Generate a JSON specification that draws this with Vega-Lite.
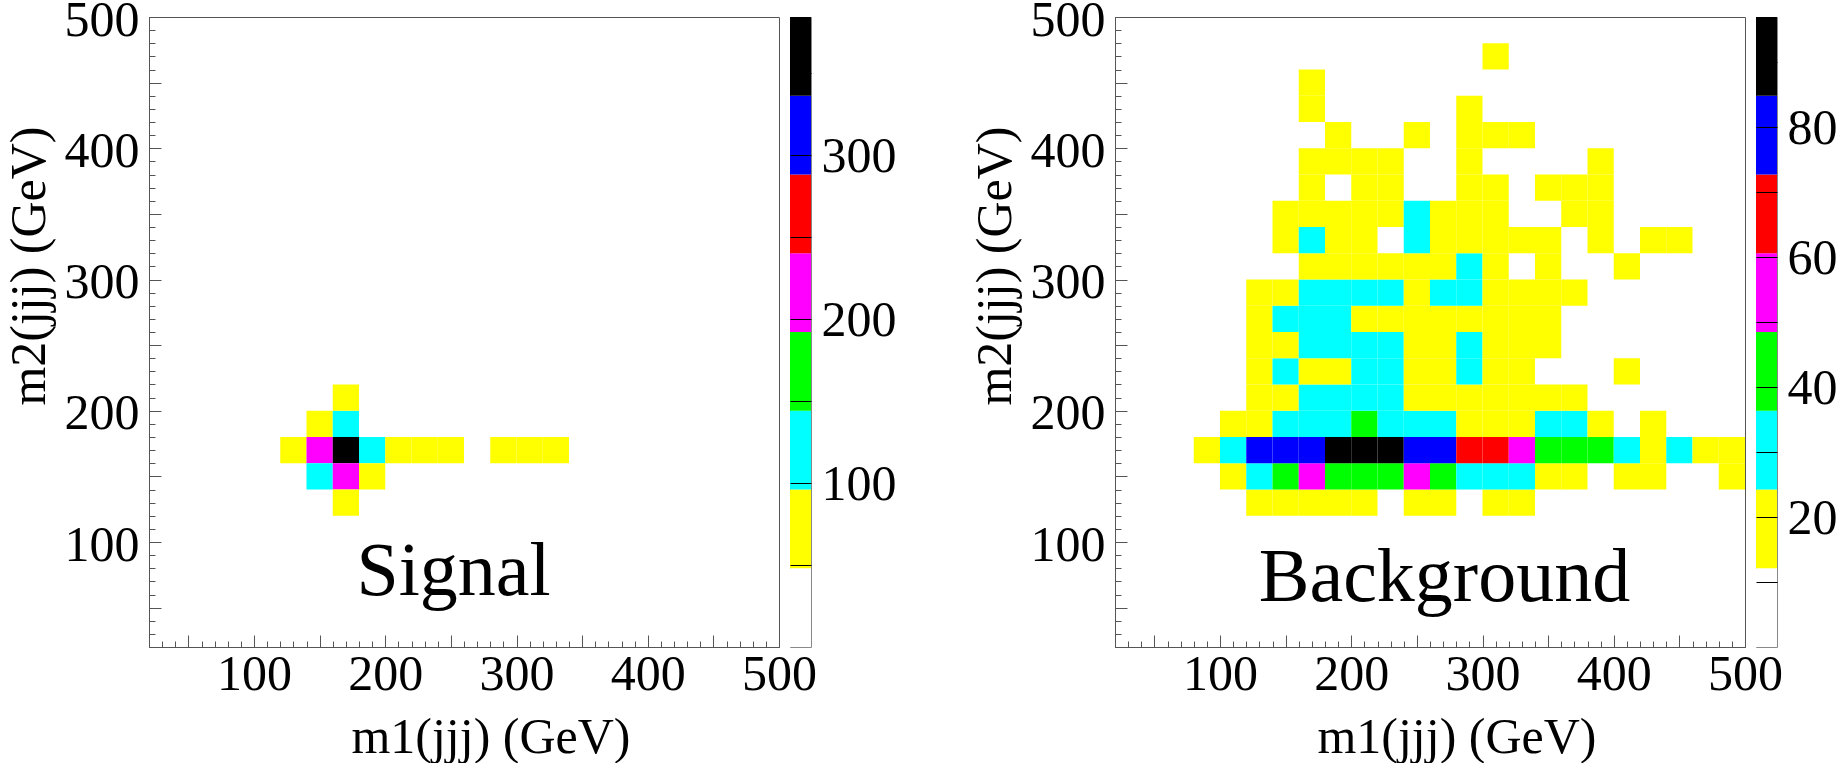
{
  "$schema": "https://vega.github.io/schema/vega-lite/v6.json",
  "background": "white",
  "padding": {"left": 3, "top": -6, "right": 0, "bottom": 0},
  "config": {
    "font": "Liberation Serif",
    "view": {"stroke": null},
    "axis": {
      "labelFont": "Liberation Serif", "labelFontSize": 50, "labelColor": "#000",
      "titleFont": "Liberation Serif", "titleFontSize": 50, "titleColor": "#000", "titleFontWeight": "normal",
      "grid": false, "tickColor": "#555", "domainColor": "#555", "tickWidth": 1, "domainWidth": 1,
      "labelOverlap": false, "labelFlush": false, "labelBound": false
    }
  },
  "datasets": {
    "signal": [
      {"m1lo":120,"m1hi":140,"m2lo":160,"m2hi":180,"n":72},
      {"m1lo":140,"m1hi":160,"m2lo":160,"m2hi":180,"n":215},
      {"m1lo":160,"m1hi":180,"m2lo":160,"m2hi":180,"n":380},
      {"m1lo":180,"m1hi":200,"m2lo":160,"m2hi":180,"n":125},
      {"m1lo":200,"m1hi":220,"m2lo":160,"m2hi":180,"n":70},
      {"m1lo":220,"m1hi":240,"m2lo":160,"m2hi":180,"n":62},
      {"m1lo":240,"m1hi":260,"m2lo":160,"m2hi":180,"n":58},
      {"m1lo":280,"m1hi":300,"m2lo":160,"m2hi":180,"n":55},
      {"m1lo":300,"m1hi":320,"m2lo":160,"m2hi":180,"n":60},
      {"m1lo":320,"m1hi":340,"m2lo":160,"m2hi":180,"n":57},
      {"m1lo":140,"m1hi":160,"m2lo":180,"m2hi":200,"n":80},
      {"m1lo":160,"m1hi":180,"m2lo":180,"m2hi":200,"n":130},
      {"m1lo":160,"m1hi":180,"m2lo":200,"m2hi":220,"n":66},
      {"m1lo":140,"m1hi":160,"m2lo":140,"m2hi":160,"n":118},
      {"m1lo":160,"m1hi":180,"m2lo":140,"m2hi":160,"n":230},
      {"m1lo":180,"m1hi":200,"m2lo":140,"m2hi":160,"n":85},
      {"m1lo":160,"m1hi":180,"m2lo":120,"m2hi":140,"n":64}
    ],
    "background": [
      {"m1lo":120,"m1hi":140,"m2lo":120,"m2hi":140,"n":17},
      {"m1lo":140,"m1hi":160,"m2lo":120,"m2hi":140,"n":20},
      {"m1lo":160,"m1hi":180,"m2lo":120,"m2hi":140,"n":22},
      {"m1lo":180,"m1hi":200,"m2lo":120,"m2hi":140,"n":19},
      {"m1lo":200,"m1hi":220,"m2lo":120,"m2hi":140,"n":16},
      {"m1lo":240,"m1hi":260,"m2lo":120,"m2hi":140,"n":18},
      {"m1lo":260,"m1hi":280,"m2lo":120,"m2hi":140,"n":15},
      {"m1lo":300,"m1hi":320,"m2lo":120,"m2hi":140,"n":16},
      {"m1lo":320,"m1hi":340,"m2lo":120,"m2hi":140,"n":14},
      {"m1lo":100,"m1hi":120,"m2lo":140,"m2hi":160,"n":16},
      {"m1lo":120,"m1hi":140,"m2lo":140,"m2hi":160,"n":30},
      {"m1lo":140,"m1hi":160,"m2lo":140,"m2hi":160,"n":42},
      {"m1lo":160,"m1hi":180,"m2lo":140,"m2hi":160,"n":52},
      {"m1lo":180,"m1hi":200,"m2lo":140,"m2hi":160,"n":44},
      {"m1lo":200,"m1hi":220,"m2lo":140,"m2hi":160,"n":46},
      {"m1lo":220,"m1hi":240,"m2lo":140,"m2hi":160,"n":40},
      {"m1lo":240,"m1hi":260,"m2lo":140,"m2hi":160,"n":51},
      {"m1lo":260,"m1hi":280,"m2lo":140,"m2hi":160,"n":39},
      {"m1lo":280,"m1hi":300,"m2lo":140,"m2hi":160,"n":33},
      {"m1lo":300,"m1hi":320,"m2lo":140,"m2hi":160,"n":29},
      {"m1lo":320,"m1hi":340,"m2lo":140,"m2hi":160,"n":27},
      {"m1lo":340,"m1hi":360,"m2lo":140,"m2hi":160,"n":21},
      {"m1lo":360,"m1hi":380,"m2lo":140,"m2hi":160,"n":19},
      {"m1lo":400,"m1hi":420,"m2lo":140,"m2hi":160,"n":17},
      {"m1lo":420,"m1hi":440,"m2lo":140,"m2hi":160,"n":15},
      {"m1lo":480,"m1hi":500,"m2lo":140,"m2hi":160,"n":14},
      {"m1lo":80,"m1hi":100,"m2lo":160,"m2hi":180,"n":14},
      {"m1lo":100,"m1hi":120,"m2lo":160,"m2hi":180,"n":28},
      {"m1lo":120,"m1hi":140,"m2lo":160,"m2hi":180,"n":78},
      {"m1lo":140,"m1hi":160,"m2lo":160,"m2hi":180,"n":80},
      {"m1lo":160,"m1hi":180,"m2lo":160,"m2hi":180,"n":82},
      {"m1lo":180,"m1hi":200,"m2lo":160,"m2hi":180,"n":92},
      {"m1lo":200,"m1hi":220,"m2lo":160,"m2hi":180,"n":96},
      {"m1lo":220,"m1hi":240,"m2lo":160,"m2hi":180,"n":88},
      {"m1lo":240,"m1hi":260,"m2lo":160,"m2hi":180,"n":79},
      {"m1lo":260,"m1hi":280,"m2lo":160,"m2hi":180,"n":75},
      {"m1lo":280,"m1hi":300,"m2lo":160,"m2hi":180,"n":68},
      {"m1lo":300,"m1hi":320,"m2lo":160,"m2hi":180,"n":64},
      {"m1lo":320,"m1hi":340,"m2lo":160,"m2hi":180,"n":55},
      {"m1lo":340,"m1hi":360,"m2lo":160,"m2hi":180,"n":45},
      {"m1lo":360,"m1hi":380,"m2lo":160,"m2hi":180,"n":43},
      {"m1lo":380,"m1hi":400,"m2lo":160,"m2hi":180,"n":38},
      {"m1lo":400,"m1hi":420,"m2lo":160,"m2hi":180,"n":30},
      {"m1lo":420,"m1hi":440,"m2lo":160,"m2hi":180,"n":20},
      {"m1lo":440,"m1hi":460,"m2lo":160,"m2hi":180,"n":27},
      {"m1lo":460,"m1hi":480,"m2lo":160,"m2hi":180,"n":18},
      {"m1lo":480,"m1hi":500,"m2lo":160,"m2hi":180,"n":16},
      {"m1lo":100,"m1hi":120,"m2lo":180,"m2hi":200,"n":15},
      {"m1lo":120,"m1hi":140,"m2lo":180,"m2hi":200,"n":21},
      {"m1lo":140,"m1hi":160,"m2lo":180,"m2hi":200,"n":28},
      {"m1lo":160,"m1hi":180,"m2lo":180,"m2hi":200,"n":31},
      {"m1lo":180,"m1hi":200,"m2lo":180,"m2hi":200,"n":34},
      {"m1lo":200,"m1hi":220,"m2lo":180,"m2hi":200,"n":37},
      {"m1lo":220,"m1hi":240,"m2lo":180,"m2hi":200,"n":33},
      {"m1lo":240,"m1hi":260,"m2lo":180,"m2hi":200,"n":30},
      {"m1lo":260,"m1hi":280,"m2lo":180,"m2hi":200,"n":26},
      {"m1lo":280,"m1hi":300,"m2lo":180,"m2hi":200,"n":22},
      {"m1lo":300,"m1hi":320,"m2lo":180,"m2hi":200,"n":23},
      {"m1lo":320,"m1hi":340,"m2lo":180,"m2hi":200,"n":19},
      {"m1lo":340,"m1hi":360,"m2lo":180,"m2hi":200,"n":27},
      {"m1lo":360,"m1hi":380,"m2lo":180,"m2hi":200,"n":25},
      {"m1lo":380,"m1hi":400,"m2lo":180,"m2hi":200,"n":16},
      {"m1lo":420,"m1hi":440,"m2lo":180,"m2hi":200,"n":14},
      {"m1lo":120,"m1hi":140,"m2lo":200,"m2hi":220,"n":18},
      {"m1lo":140,"m1hi":160,"m2lo":200,"m2hi":220,"n":22},
      {"m1lo":160,"m1hi":180,"m2lo":200,"m2hi":220,"n":27},
      {"m1lo":180,"m1hi":200,"m2lo":200,"m2hi":220,"n":30},
      {"m1lo":200,"m1hi":220,"m2lo":200,"m2hi":220,"n":29},
      {"m1lo":220,"m1hi":240,"m2lo":200,"m2hi":220,"n":26},
      {"m1lo":240,"m1hi":260,"m2lo":200,"m2hi":220,"n":23},
      {"m1lo":260,"m1hi":280,"m2lo":200,"m2hi":220,"n":21},
      {"m1lo":280,"m1hi":300,"m2lo":200,"m2hi":220,"n":20},
      {"m1lo":300,"m1hi":320,"m2lo":200,"m2hi":220,"n":22},
      {"m1lo":320,"m1hi":340,"m2lo":200,"m2hi":220,"n":19},
      {"m1lo":340,"m1hi":360,"m2lo":200,"m2hi":220,"n":17},
      {"m1lo":360,"m1hi":380,"m2lo":200,"m2hi":220,"n":15},
      {"m1lo":120,"m1hi":140,"m2lo":220,"m2hi":240,"n":16},
      {"m1lo":140,"m1hi":160,"m2lo":220,"m2hi":240,"n":25},
      {"m1lo":160,"m1hi":180,"m2lo":220,"m2hi":240,"n":22},
      {"m1lo":180,"m1hi":200,"m2lo":220,"m2hi":240,"n":23},
      {"m1lo":200,"m1hi":220,"m2lo":220,"m2hi":240,"n":28},
      {"m1lo":220,"m1hi":240,"m2lo":220,"m2hi":240,"n":26},
      {"m1lo":240,"m1hi":260,"m2lo":220,"m2hi":240,"n":20},
      {"m1lo":260,"m1hi":280,"m2lo":220,"m2hi":240,"n":19},
      {"m1lo":280,"m1hi":300,"m2lo":220,"m2hi":240,"n":25},
      {"m1lo":300,"m1hi":320,"m2lo":220,"m2hi":240,"n":21},
      {"m1lo":320,"m1hi":340,"m2lo":220,"m2hi":240,"n":18},
      {"m1lo":400,"m1hi":420,"m2lo":220,"m2hi":240,"n":13},
      {"m1lo":120,"m1hi":140,"m2lo":240,"m2hi":260,"n":17},
      {"m1lo":140,"m1hi":160,"m2lo":240,"m2hi":260,"n":23},
      {"m1lo":160,"m1hi":180,"m2lo":240,"m2hi":260,"n":29},
      {"m1lo":180,"m1hi":200,"m2lo":240,"m2hi":260,"n":31},
      {"m1lo":200,"m1hi":220,"m2lo":240,"m2hi":260,"n":27},
      {"m1lo":220,"m1hi":240,"m2lo":240,"m2hi":260,"n":25},
      {"m1lo":240,"m1hi":260,"m2lo":240,"m2hi":260,"n":22},
      {"m1lo":260,"m1hi":280,"m2lo":240,"m2hi":260,"n":20},
      {"m1lo":280,"m1hi":300,"m2lo":240,"m2hi":260,"n":26},
      {"m1lo":300,"m1hi":320,"m2lo":240,"m2hi":260,"n":21},
      {"m1lo":320,"m1hi":340,"m2lo":240,"m2hi":260,"n":19},
      {"m1lo":340,"m1hi":360,"m2lo":240,"m2hi":260,"n":15},
      {"m1lo":120,"m1hi":140,"m2lo":260,"m2hi":280,"n":19},
      {"m1lo":140,"m1hi":160,"m2lo":260,"m2hi":280,"n":26},
      {"m1lo":160,"m1hi":180,"m2lo":260,"m2hi":280,"n":30},
      {"m1lo":180,"m1hi":200,"m2lo":260,"m2hi":280,"n":28},
      {"m1lo":200,"m1hi":220,"m2lo":260,"m2hi":280,"n":23},
      {"m1lo":220,"m1hi":240,"m2lo":260,"m2hi":280,"n":22},
      {"m1lo":240,"m1hi":260,"m2lo":260,"m2hi":280,"n":21},
      {"m1lo":260,"m1hi":280,"m2lo":260,"m2hi":280,"n":20},
      {"m1lo":280,"m1hi":300,"m2lo":260,"m2hi":280,"n":22},
      {"m1lo":300,"m1hi":320,"m2lo":260,"m2hi":280,"n":23},
      {"m1lo":320,"m1hi":340,"m2lo":260,"m2hi":280,"n":18},
      {"m1lo":340,"m1hi":360,"m2lo":260,"m2hi":280,"n":16},
      {"m1lo":120,"m1hi":140,"m2lo":280,"m2hi":300,"n":18},
      {"m1lo":140,"m1hi":160,"m2lo":280,"m2hi":300,"n":21},
      {"m1lo":160,"m1hi":180,"m2lo":280,"m2hi":300,"n":27},
      {"m1lo":180,"m1hi":200,"m2lo":280,"m2hi":300,"n":29},
      {"m1lo":200,"m1hi":220,"m2lo":280,"m2hi":300,"n":26},
      {"m1lo":220,"m1hi":240,"m2lo":280,"m2hi":300,"n":25},
      {"m1lo":240,"m1hi":260,"m2lo":280,"m2hi":300,"n":23},
      {"m1lo":260,"m1hi":280,"m2lo":280,"m2hi":300,"n":25},
      {"m1lo":280,"m1hi":300,"m2lo":280,"m2hi":300,"n":26},
      {"m1lo":300,"m1hi":320,"m2lo":280,"m2hi":300,"n":22},
      {"m1lo":320,"m1hi":340,"m2lo":280,"m2hi":300,"n":20},
      {"m1lo":340,"m1hi":360,"m2lo":280,"m2hi":300,"n":17},
      {"m1lo":360,"m1hi":380,"m2lo":280,"m2hi":300,"n":15},
      {"m1lo":160,"m1hi":180,"m2lo":300,"m2hi":320,"n":19},
      {"m1lo":180,"m1hi":200,"m2lo":300,"m2hi":320,"n":21},
      {"m1lo":200,"m1hi":220,"m2lo":300,"m2hi":320,"n":22},
      {"m1lo":220,"m1hi":240,"m2lo":300,"m2hi":320,"n":20},
      {"m1lo":240,"m1hi":260,"m2lo":300,"m2hi":320,"n":21},
      {"m1lo":260,"m1hi":280,"m2lo":300,"m2hi":320,"n":23},
      {"m1lo":280,"m1hi":300,"m2lo":300,"m2hi":320,"n":25},
      {"m1lo":300,"m1hi":320,"m2lo":300,"m2hi":320,"n":20},
      {"m1lo":340,"m1hi":360,"m2lo":300,"m2hi":320,"n":16},
      {"m1lo":400,"m1hi":420,"m2lo":300,"m2hi":320,"n":13},
      {"m1lo":140,"m1hi":160,"m2lo":320,"m2hi":340,"n":17},
      {"m1lo":160,"m1hi":180,"m2lo":320,"m2hi":340,"n":25},
      {"m1lo":180,"m1hi":200,"m2lo":320,"m2hi":340,"n":22},
      {"m1lo":200,"m1hi":220,"m2lo":320,"m2hi":340,"n":20},
      {"m1lo":240,"m1hi":260,"m2lo":320,"m2hi":340,"n":25},
      {"m1lo":260,"m1hi":280,"m2lo":320,"m2hi":340,"n":21},
      {"m1lo":280,"m1hi":300,"m2lo":320,"m2hi":340,"n":22},
      {"m1lo":300,"m1hi":320,"m2lo":320,"m2hi":340,"n":20},
      {"m1lo":320,"m1hi":340,"m2lo":320,"m2hi":340,"n":19},
      {"m1lo":340,"m1hi":360,"m2lo":320,"m2hi":340,"n":16},
      {"m1lo":380,"m1hi":400,"m2lo":320,"m2hi":340,"n":15},
      {"m1lo":420,"m1hi":440,"m2lo":320,"m2hi":340,"n":14},
      {"m1lo":440,"m1hi":460,"m2lo":320,"m2hi":340,"n":13},
      {"m1lo":140,"m1hi":160,"m2lo":340,"m2hi":360,"n":16},
      {"m1lo":160,"m1hi":180,"m2lo":340,"m2hi":360,"n":20},
      {"m1lo":180,"m1hi":200,"m2lo":340,"m2hi":360,"n":21},
      {"m1lo":200,"m1hi":220,"m2lo":340,"m2hi":360,"n":19},
      {"m1lo":220,"m1hi":240,"m2lo":340,"m2hi":360,"n":18},
      {"m1lo":240,"m1hi":260,"m2lo":340,"m2hi":360,"n":25},
      {"m1lo":260,"m1hi":280,"m2lo":340,"m2hi":360,"n":20},
      {"m1lo":280,"m1hi":300,"m2lo":340,"m2hi":360,"n":19},
      {"m1lo":300,"m1hi":320,"m2lo":340,"m2hi":360,"n":18},
      {"m1lo":360,"m1hi":380,"m2lo":340,"m2hi":360,"n":15},
      {"m1lo":380,"m1hi":400,"m2lo":340,"m2hi":360,"n":14},
      {"m1lo":160,"m1hi":180,"m2lo":360,"m2hi":380,"n":15},
      {"m1lo":200,"m1hi":220,"m2lo":360,"m2hi":380,"n":17},
      {"m1lo":220,"m1hi":240,"m2lo":360,"m2hi":380,"n":16},
      {"m1lo":280,"m1hi":300,"m2lo":360,"m2hi":380,"n":18},
      {"m1lo":300,"m1hi":320,"m2lo":360,"m2hi":380,"n":16},
      {"m1lo":340,"m1hi":360,"m2lo":360,"m2hi":380,"n":14},
      {"m1lo":360,"m1hi":380,"m2lo":360,"m2hi":380,"n":15},
      {"m1lo":380,"m1hi":400,"m2lo":360,"m2hi":380,"n":13},
      {"m1lo":160,"m1hi":180,"m2lo":380,"m2hi":400,"n":14},
      {"m1lo":180,"m1hi":200,"m2lo":380,"m2hi":400,"n":16},
      {"m1lo":200,"m1hi":220,"m2lo":380,"m2hi":400,"n":15},
      {"m1lo":220,"m1hi":240,"m2lo":380,"m2hi":400,"n":14},
      {"m1lo":280,"m1hi":300,"m2lo":380,"m2hi":400,"n":15},
      {"m1lo":380,"m1hi":400,"m2lo":380,"m2hi":400,"n":13},
      {"m1lo":180,"m1hi":200,"m2lo":400,"m2hi":420,"n":14},
      {"m1lo":240,"m1hi":260,"m2lo":400,"m2hi":420,"n":13},
      {"m1lo":280,"m1hi":300,"m2lo":400,"m2hi":420,"n":15},
      {"m1lo":300,"m1hi":320,"m2lo":400,"m2hi":420,"n":14},
      {"m1lo":320,"m1hi":340,"m2lo":400,"m2hi":420,"n":13},
      {"m1lo":160,"m1hi":180,"m2lo":420,"m2hi":440,"n":14},
      {"m1lo":280,"m1hi":300,"m2lo":420,"m2hi":440,"n":13},
      {"m1lo":160,"m1hi":180,"m2lo":440,"m2hi":460,"n":13},
      {"m1lo":300,"m1hi":320,"m2lo":460,"m2hi":480,"n":13}
    ],
    "barS": [
      {"z0":0,"z1":48},{"z0":48,"z1":96},{"z0":96,"z1":144},{"z0":144,"z1":192},
      {"z0":192,"z1":240},{"z0":240,"z1":288},{"z0":288,"z1":336},{"z0":336,"z1":384}
    ],
    "barB": [
      {"z0":0,"z1":12.11},{"z0":12.11,"z1":24.23},{"z0":24.23,"z1":36.34},{"z0":36.34,"z1":48.45},
      {"z0":48.45,"z1":60.56},{"z0":60.56,"z1":72.68},{"z0":72.68,"z1":84.79},{"z0":84.79,"z1":96.9}
    ]
  },
  "bounds": "flush",
  "spacing": 11,
  "resolve": {"scale": {"x": "independent", "y": "independent", "color": "independent"}},
  "hconcat": [
    {
      "width": 630, "height": 630,
      "view": {"stroke": "#555", "strokeWidth": 1},
      "resolve": {"axis": {"x": "independent", "y": "independent"}},
      "layer": [
        {
          "data": {"name": "signal"},
          "mark": {"type": "rect"},
          "encoding": {
            "x": {"field": "m1lo", "type": "quantitative", "scale": {"domain": [20, 500], "nice": false, "zero": false},
              "axis": {"orient": "bottom", "title": "m1(jjj) (GeV)", "values": [50,100,150,200,250,300,350,400,450,500], "tickSize": -12,
                "labelExpr": "datum.value % 100 === 0 ? datum.label : ''", "labelPadding": 14,
                "titleAnchor": "end", "titleAlign": "right", "titleBaseline": "alphabetic", "titleX": 481, "titleY": 105}},
            "x2": {"field": "m1hi"},
            "y": {"field": "m2lo", "type": "quantitative", "scale": {"domain": [20, 500], "nice": false, "zero": false},
              "axis": {"orient": "left", "title": "m2(jjj) (GeV)", "values": [50,100,150,200,250,300,350,400,450,500], "tickSize": -12,
                "labelExpr": "datum.value % 100 === 0 ? datum.label : ''", "labelPadding": 22, "labelOffset": 3,
                "titleAngle": -90, "titleAnchor": "end", "titleAlign": "right", "titleBaseline": "alphabetic", "titleX": -105, "titleY": 109}},
            "y2": {"field": "m2hi"},
            "color": {"field": "n", "type": "quantitative",
              "scale": {"type": "threshold", "domain": [48, 96, 144, 192, 240, 288, 336],
                "range": ["#ffffff", "#ffff00", "#00ffff", "#00ff00", "#ff00ff", "#ff0000", "#0000ff", "#000000"]},
              "legend": null}
          }
        },
        {
          "data": {"values": [{"label": "Signal"}]},
          "mark": {"type": "text", "font": "Liberation Serif", "fontSize": 76, "align": "center", "baseline": "alphabetic", "color": "#000"},
          "encoding": {
            "x": {"datum": 252, "type": "quantitative",
              "axis": {"orient": "bottom", "title": null, "labels": false, "domain": false, "tickSize": -6,
                "values": [30,40,60,70,80,90,110,120,130,140,160,170,180,190,210,220,230,240,260,270,280,290,310,320,330,340,360,370,380,390,410,420,430,440,460,470,480,490]}},
            "y": {"datum": 60, "type": "quantitative",
              "axis": {"orient": "left", "title": null, "labels": false, "domain": false, "tickSize": -6,
                "values": [30,40,60,70,80,90,110,120,130,140,160,170,180,190,210,220,230,240,260,270,280,290,310,320,330,340,360,370,380,390,410,420,430,440,460,470,480,490]}},
            "text": {"field": "label"}
          }
        }
      ]
    },
    {
      "width": 21, "height": 630,
      "view": {"stroke": "#888", "strokeWidth": 1},
      "data": {"name": "barS"},
      "mark": {"type": "rect"},
      "encoding": {
        "y": {"field": "z0", "type": "quantitative", "scale": {"domain": [0, 384], "nice": false, "zero": false},
          "axis": {"orient": "right", "title": null, "values": [50,100,150,200,250,300,350], "tickSize": -21, "tickColor": "#000", "domain": false, "zindex": 1,
            "labelExpr": "datum.value % 100 === 0 ? datum.label : ''", "labelPadding": 31, "labelOffset": 2}},
        "y2": {"field": "z1"},
        "color": {"field": "z0", "type": "quantitative",
          "scale": {"type": "threshold", "domain": [48, 96, 144, 192, 240, 288, 336],
            "range": ["#ffffff", "#ffff00", "#00ffff", "#00ff00", "#ff00ff", "#ff0000", "#0000ff", "#000000"]},
          "legend": null}
      }
    },
    {
      "width": 282, "height": 630,
      "data": {"values": []},
      "mark": "point"
    },
    {
      "width": 630, "height": 630,
      "view": {"stroke": "#555", "strokeWidth": 1},
      "resolve": {"axis": {"x": "independent", "y": "independent"}},
      "layer": [
        {
          "data": {"name": "background"},
          "mark": {"type": "rect"},
          "encoding": {
            "x": {"field": "m1lo", "type": "quantitative", "scale": {"domain": [20, 500], "nice": false, "zero": false},
              "axis": {"orient": "bottom", "title": "m1(jjj) (GeV)", "values": [50,100,150,200,250,300,350,400,450,500], "tickSize": -12,
                "labelExpr": "datum.value % 100 === 0 ? datum.label : ''", "labelPadding": 14,
                "titleAnchor": "end", "titleAlign": "right", "titleBaseline": "alphabetic", "titleX": 481, "titleY": 105}},
            "x2": {"field": "m1hi"},
            "y": {"field": "m2lo", "type": "quantitative", "scale": {"domain": [20, 500], "nice": false, "zero": false},
              "axis": {"orient": "left", "title": "m2(jjj) (GeV)", "values": [50,100,150,200,250,300,350,400,450,500], "tickSize": -12,
                "labelExpr": "datum.value % 100 === 0 ? datum.label : ''", "labelPadding": 22, "labelOffset": 3,
                "titleAngle": -90, "titleAnchor": "end", "titleAlign": "right", "titleBaseline": "alphabetic", "titleX": -105, "titleY": 109}},
            "y2": {"field": "m2hi"},
            "color": {"field": "n", "type": "quantitative",
              "scale": {"type": "threshold", "domain": [12.11, 24.23, 36.34, 48.45, 60.56, 72.68, 84.79],
                "range": ["#ffffff", "#ffff00", "#00ffff", "#00ff00", "#ff00ff", "#ff0000", "#0000ff", "#000000"]},
              "legend": null}
          }
        },
        {
          "data": {"values": [{"label": "Background"}]},
          "mark": {"type": "text", "font": "Liberation Serif", "fontSize": 76, "align": "center", "baseline": "alphabetic", "color": "#000"},
          "encoding": {
            "x": {"datum": 271, "type": "quantitative",
              "axis": {"orient": "bottom", "title": null, "labels": false, "domain": false, "tickSize": -6,
                "values": [30,40,60,70,80,90,110,120,130,140,160,170,180,190,210,220,230,240,260,270,280,290,310,320,330,340,360,370,380,390,410,420,430,440,460,470,480,490]}},
            "y": {"datum": 55, "type": "quantitative",
              "axis": {"orient": "left", "title": null, "labels": false, "domain": false, "tickSize": -6,
                "values": [30,40,60,70,80,90,110,120,130,140,160,170,180,190,210,220,230,240,260,270,280,290,310,320,330,340,360,370,380,390,410,420,430,440,460,470,480,490]}},
            "text": {"field": "label"}
          }
        }
      ]
    },
    {
      "width": 21, "height": 630,
      "view": {"stroke": "#888", "strokeWidth": 1},
      "data": {"name": "barB"},
      "mark": {"type": "rect"},
      "encoding": {
        "y": {"field": "z0", "type": "quantitative", "scale": {"domain": [0, 96.9], "nice": false, "zero": false},
          "axis": {"orient": "right", "title": null, "values": [10,20,30,40,50,60,70,80,90], "tickSize": -21, "tickColor": "#000", "domain": false, "zindex": 1,
            "labelExpr": "datum.value % 20 === 0 ? datum.label : ''", "labelPadding": 31, "labelOffset": 2}},
        "y2": {"field": "z1"},
        "color": {"field": "z0", "type": "quantitative",
          "scale": {"type": "threshold", "domain": [12.11, 24.23, 36.34, 48.45, 60.56, 72.68, 84.79],
            "range": ["#ffffff", "#ffff00", "#00ffff", "#00ff00", "#ff00ff", "#ff0000", "#0000ff", "#000000"]},
          "legend": null}
      }
    }
  ]
}
